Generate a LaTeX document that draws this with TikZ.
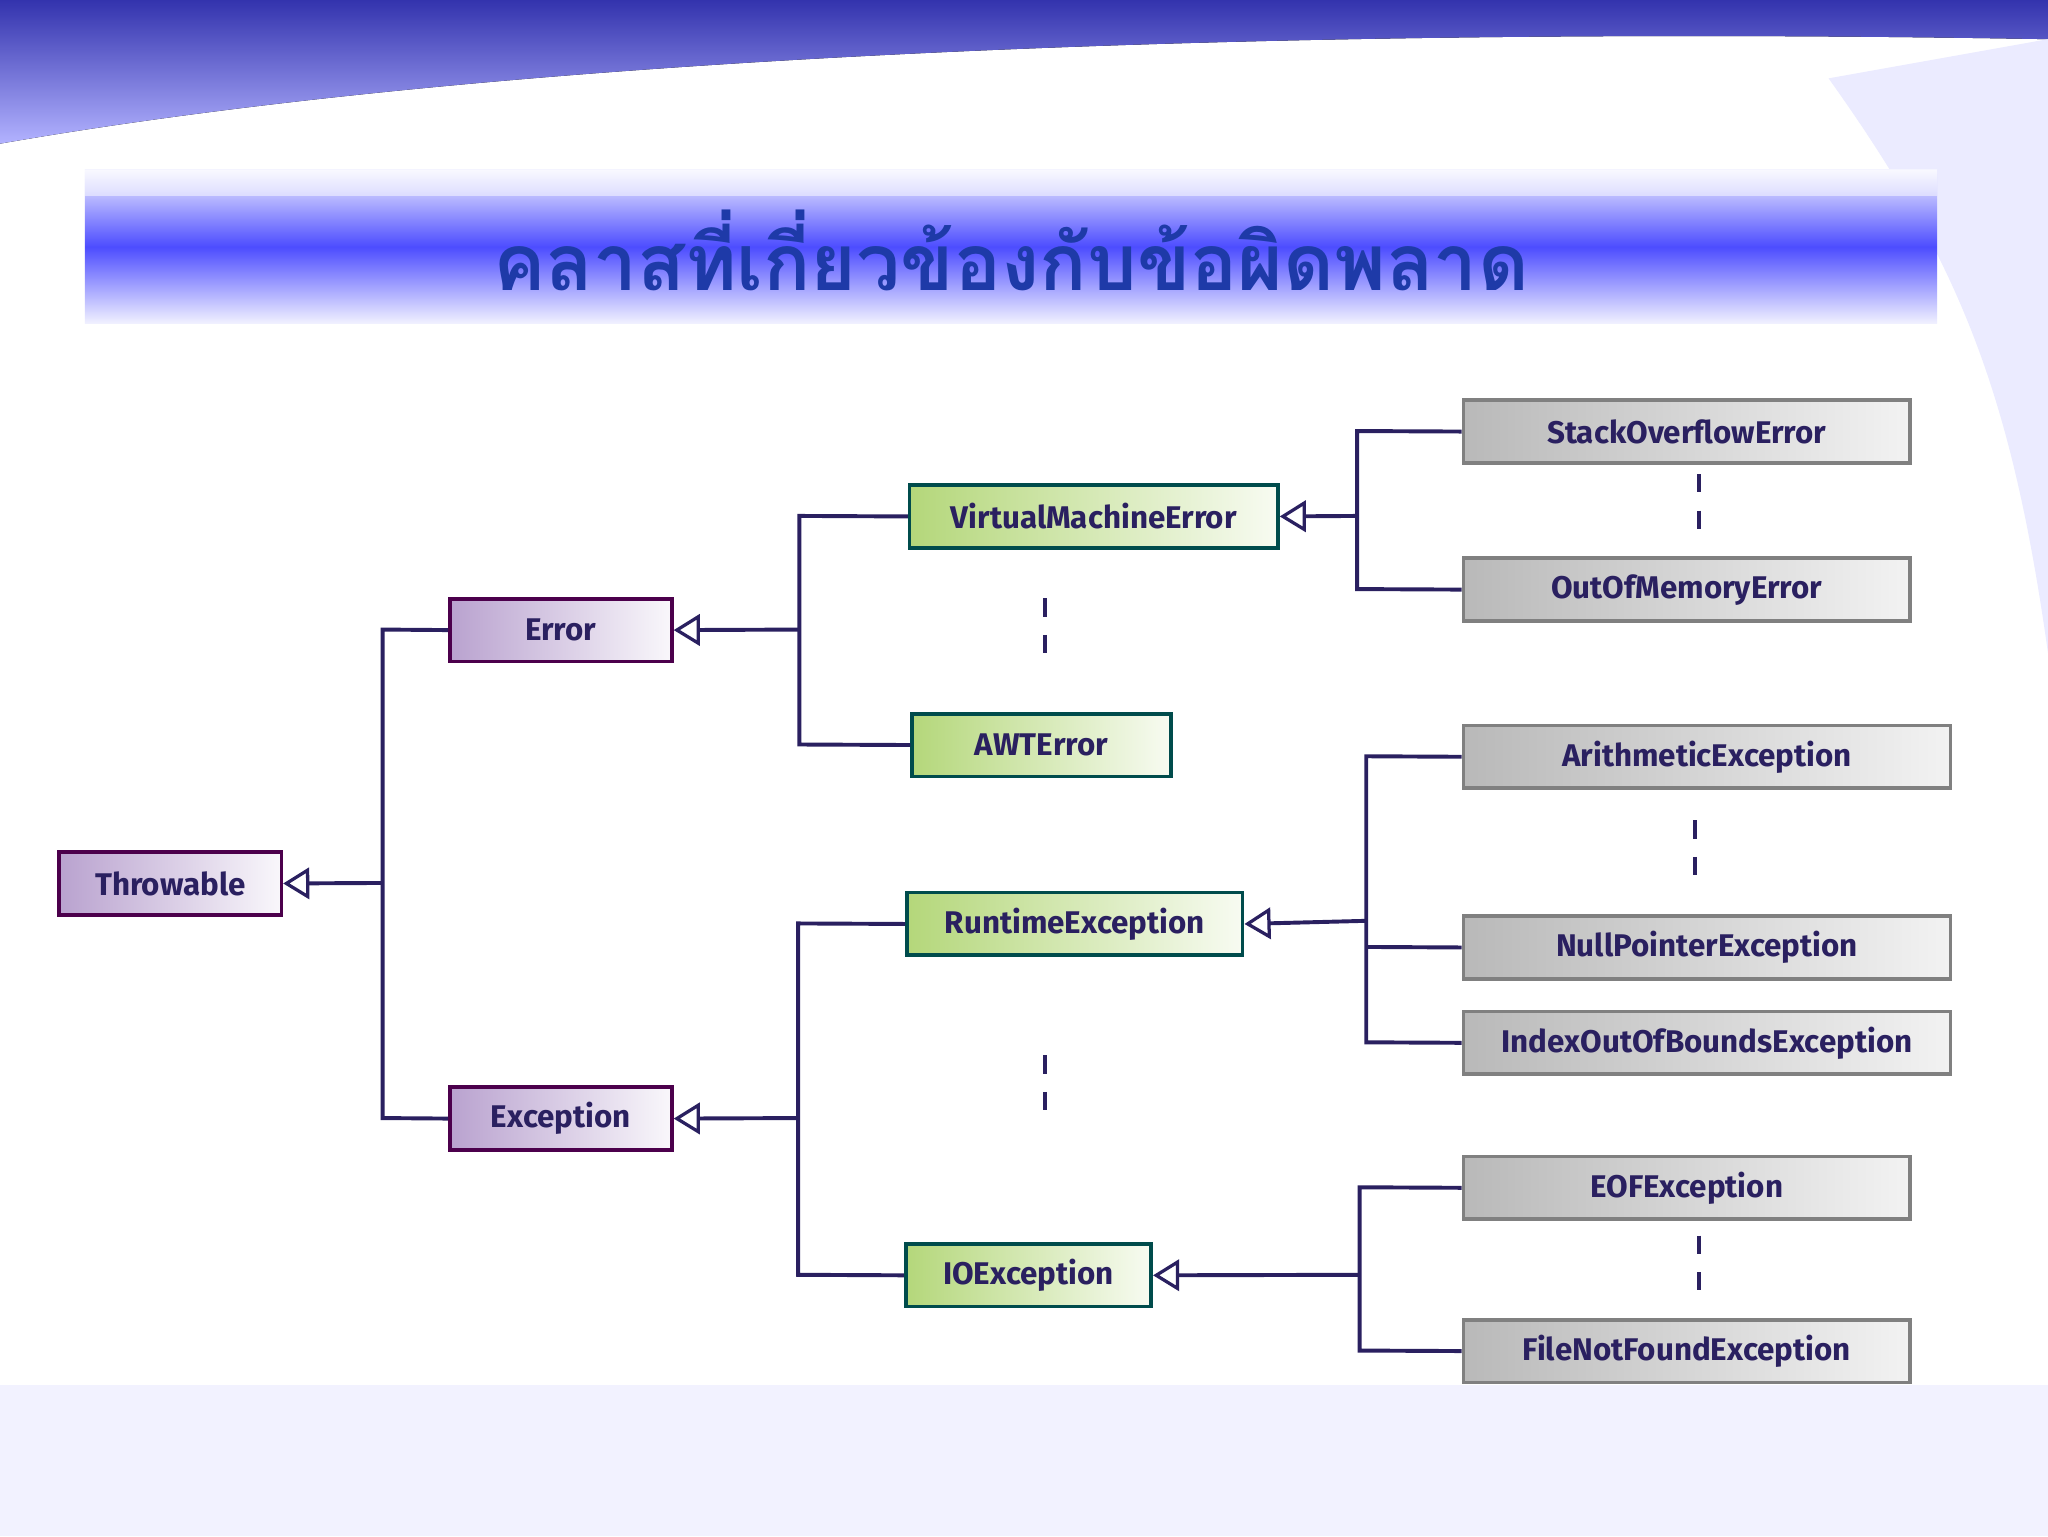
\documentclass[tikz,border=0pt]{standalone}
\usepackage{fontspec}
\setmainfont{Fira Sans}
\newfontfamily\thaifont[Script=Thai]{Loma}
\usetikzlibrary{arrows.meta}
\definecolor{navy}{HTML}{2A2060}
\definecolor{ttl}{HTML}{1E3AA8}
\definecolor{grn}{HTML}{B4D77A}
\definecolor{pur}{HTML}{B9A2CF}
\tikzset{
 box/.style={draw, line width=2.8pt, minimum height=48pt, font=\fontsize{24}{28}\selectfont\bfseries, text=navy, inner sep=0pt, anchor=north west},
 pbox/.style={box, draw=violet!60!black, left color=pur, right color=white!92!pur},
 gbox/.style={box, draw=teal!60!black, left color=grn, right color=white!90!grn},
 ybox/.style={box, draw=gray, left color=gray!55, right color=gray!10},
 ln/.style={draw=navy, line width=3pt},
 arr/.style={ln, -{Triangle[open, length=20pt, width=24pt, line width=2.5pt]}},
 dsh/.style={draw=navy, line width=3pt, dash pattern=on 14pt off 14pt}
}
\begin{document}
\begin{tikzpicture}[x=1pt,y=-1pt]
\useasboundingbox (0,0) rectangle (1568,1176);
\fill[white] (0,0) rectangle (1568,1176);
% background swoosh
\fill[top color=blue!60!black!80, bottom color=blue!30] (0,0) -- (1568,0) -- (1568,30) .. controls (1000,20) and (400,40) .. (0,110) -- cycle;
\fill[blue!8] (1400,60) .. controls (1500,200) and (1540,300) .. (1568,500) -- (1568,30) -- cycle;
\fill[blue!5] (0,1060) rectangle (1568,1176);
% title band
\fill[top color=blue!5, bottom color=blue!5, middle color=blue!70] (65,130) rectangle (1483,248);
\fill[white, opacity=0.5] (65,130) rectangle (1483,150);
\node (title) at (774,192) {\thaifont\bfseries\fontsize{60}{66}\selectfont\color{ttl} คลาสที่เกี่ยวข้องกับข้อผิดพลาด};
% nodes
\node[pbox, minimum width=170pt] (thr) at (44,651) {Throwable};
\node[pbox, minimum width=170pt] (err) at (343,457) {Error};
\node[pbox, minimum width=170pt] (exc) at (343,831) {Exception};
\node[gbox, minimum width=282pt] (vme) at (695,370) {VirtualMachineError};
\node[gbox, minimum width=198pt] (awt) at (697,545) {AWTError};
\node[gbox, minimum width=257pt] (rte) at (693,682) {RuntimeException};
\node[gbox, minimum width=188pt] (ioe) at (692,951) {IOException};
\node[ybox, minimum width=342pt] (soe) at (1119,305) {StackOverflowError};
\node[ybox, minimum width=342pt] (oom) at (1119,426) {OutOfMemoryError};
\node[ybox, minimum width=373pt] (ari) at (1119,554) {ArithmeticException};
\node[ybox, minimum width=373pt] (npe) at (1119,700) {NullPointerException};
\node[ybox, minimum width=373pt] (iob) at (1119,773) {IndexOutOfBoundsException};
\node[ybox, minimum width=342pt] (eof) at (1119,884) {EOFException};
\node[ybox, minimum width=342pt] (fnf) at (1119,1009) {FileNotFoundException};
% buses
\coordinate (b1) at (293,676);
\path[ln] (err.west) -- (293,482) -- (293,856) -- (exc.west);
\draw[arr] (b1) -- (thr.east);
\coordinate (b2) at (612,482);
\path[ln] (vme.west) -- (612,395) -- (612,570) -- (awt.west);
\draw[arr] (b2) -- (err.east);
\coordinate (b3) at (611,856);
\path[ln] (rte.west) -- (611,707) -- (611,976) -- (ioe.west);
\draw[arr] (b3) -- (exc.east);
\coordinate (b4) at (1039,395);
\path[ln] (soe.west) -- (1039,330) -- (1039,451) -- (oom.west);
\draw[arr] (b4) -- (vme.east);
\coordinate (b5) at (1046,705);
\path[ln] (ari.west) -- (1046,579) -- (1046,798) -- (iob.west);
\path[ln] (1046,725) -- (npe.west);
\draw[arr] (b5) -- (rte.east);
\coordinate (b6) at (1041,976);
\path[ln] (eof.west) -- (1041,909) -- (1041,1034) -- (fnf.west);
\draw[arr] (b6) -- (ioe.east);
% dashed
\draw[dsh] (800,458) -- (800,506);
\draw[dsh] (800,808) -- (800,856);
\draw[dsh] (1301,363) -- (1301,411);
\draw[dsh] (1298,628) -- (1298,676);
\draw[dsh] (1301,946) -- (1301,994);
\end{tikzpicture}
\end{document}
